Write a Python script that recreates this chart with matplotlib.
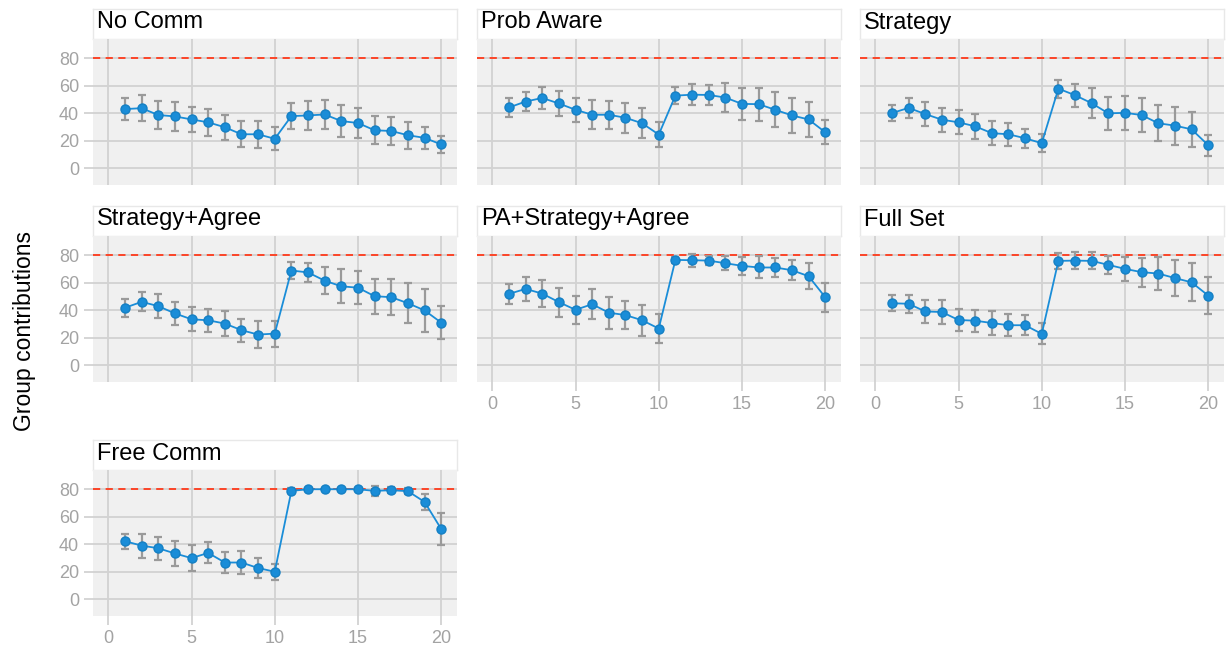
import numpy as np
import matplotlib
matplotlib.use("Agg")
import matplotlib.pyplot as plt

plt.rcParams['font.family'] = ['Liberation Sans', 'DejaVu Sans']

# data
#------------------------------
rounds = [1, 2, 3, 4, 5, 6, 7, 8, 9, 10, 11, 12, 13, 14, 15, 16, 17, 18, 19, 20]
target = 80

titles = ["No Comm", "Prob Aware", "Strategy", "Strategy+Agree",
          "PA+Strategy+Agree", "Full Set", "Free Comm"]

no_comm_mean = [43.0, 43.7, 38.7, 37.7, 35.5, 33.4, 29.8, 24.7, 24.7, 21.4,
                37.9, 38.4, 39.1, 34.3, 32.9, 27.6, 27.1, 24.0, 22.1, 17.3]
no_comm_err = [7.8, 9.6, 10.5, 10.4, 9.0, 9.8, 9.2, 9.6, 9.7, 8.4,
               9.4, 10.3, 10.3, 11.5, 10.6, 10.3, 10.0, 9.8, 7.8, 6.1]

prob_aware_mean = [44.2, 48.5, 51.1, 47.1, 42.5, 38.9, 38.9, 36.7, 32.7, 24.5,
                   52.8, 53.5, 53.3, 51.4, 46.8, 46.6, 42.5, 38.4, 35.5, 26.2]
prob_aware_err = [6.6, 6.8, 8.2, 8.8, 8.8, 10.4, 10.2, 10.9, 10.9, 8.9,
                  6.1, 7.6, 7.6, 10.3, 11.8, 12.0, 12.6, 12.7, 12.7, 8.8]

strategy_mean = [40.1, 43.9, 39.4, 35.3, 33.4, 30.5, 25.5, 24.7, 21.8, 18.2,
                 57.9, 53.1, 47.3, 39.9, 40.3, 38.7, 32.7, 31.0, 28.3, 16.8]
strategy_err = [5.8, 7.1, 8.5, 8.8, 8.8, 9.2, 8.9, 8.2, 6.8, 6.6,
                6.5, 8.4, 10.7, 12.2, 12.6, 12.7, 13.2, 13.8, 12.5, 7.6]

strat_agree_mean = [41.8, 46.1, 43.0, 37.7, 33.4, 32.7, 30.3, 25.5, 22.3, 23.0,
                    68.9, 67.5, 61.5, 57.4, 56.4, 50.2, 49.5, 45.1, 39.9, 31.0]
strat_agree_err = [6.4, 7.0, 8.6, 8.4, 8.8, 8.3, 9.1, 8.3, 9.7, 9.5,
                   6.5, 6.8, 9.7, 12.4, 12.1, 12.8, 13.2, 14.6, 15.4, 11.9]

pa_strat_agree_mean = [51.9, 55.5, 52.1, 45.9, 40.3, 44.4, 38.2, 36.5, 32.7, 26.7,
                       76.6, 76.4, 76.1, 74.2, 72.3, 71.1, 71.1, 69.1, 64.8, 49.5]
pa_strat_agree_err = [7.0, 8.5, 10.0, 10.6, 10.3, 10.7, 11.6, 10.3, 11.4, 10.8,
                      2.3, 4.6, 3.4, 5.0, 6.7, 8.0, 6.7, 7.2, 9.2, 10.6]

full_set_mean = [45.1, 44.7, 39.1, 38.7, 32.9, 32.4, 30.7, 29.1, 29.1, 22.8,
                 75.9, 76.1, 75.9, 73.0, 70.1, 67.7, 66.7, 63.4, 60.3, 50.7]
full_set_err = [6.0, 6.6, 8.2, 8.8, 8.1, 8.0, 8.6, 7.8, 7.3, 7.7,
                6.0, 6.2, 6.1, 6.4, 8.8, 10.6, 12.0, 12.8, 13.8, 13.5]

free_comm_mean = [42.2, 39.0, 37.1, 33.3, 29.9, 33.7, 26.7, 26.7, 22.7, 20.0,
                  78.8, 80.0, 80.0, 80.0, 80.0, 78.8, 79.3, 78.6, 70.8, 51.1]
free_comm_err = [5.4, 8.8, 8.4, 9.4, 9.5, 7.6, 7.5, 8.4, 7.3, 5.8,
                 1.8, 0.7, 0.5, 0.5, 0.5, 3.4, 2.0, 2.4, 5.9, 11.7]

means = [no_comm_mean, prob_aware_mean, strategy_mean, strat_agree_mean,
         pa_strat_agree_mean, full_set_mean, free_comm_mean]
errs = [no_comm_err, prob_aware_err, strategy_err, strat_agree_err,
        pa_strat_agree_err, full_set_err, free_comm_err]
#------------------------------

# layout in pixels
#------------------------------
W, H = 1229, 646
col_x = [93, 477, 860]
col_w = 364
strip_top = [9, 206, 440]
strip_h = 30
plot_h = 146
show_x = [False, False, False, False, True, True, True]

blue = '#1a8dd8'
grid_c = '#d2d2d2'
tick_c = '#a3a3a3'

fig = plt.figure(figsize=(W / 100, H / 100), dpi=100)

for i, title in enumerate(titles):
    r, c = divmod(i, 3)
    x0 = col_x[c]
    ys = strip_top[r]

    # strip
    sax = fig.add_axes([x0 / W, 1 - (ys + strip_h) / H, col_w / W, strip_h / H])
    sax.set_facecolor('white')
    sax.set_xticks([])
    sax.set_yticks([])
    for sp in sax.spines.values():
        sp.set_color('#e8e8e8')
        sp.set_linewidth(1)
    sax.text(4 / col_w, 0.55, title, transform=sax.transAxes, ha='left',
             va='center', fontsize=17, color='black')

    # panel
    py = ys + strip_h
    ax = fig.add_axes([x0 / W, 1 - (py + plot_h) / H, col_w / W, plot_h / H])
    ax.set_facecolor('#f0f0f0')
    for sp in ax.spines.values():
        sp.set_visible(False)
    ax.set_xlim(-0.92, 20.95)
    ax.set_ylim(-12.2, 94)
    ax.set_xticks([0, 5, 10, 15, 20])
    ax.set_yticks([0, 20, 40, 60, 80])
    ax.grid(True, color=grid_c, linewidth=1.3)
    ax.set_axisbelow(True)
    ax.tick_params(axis='both', colors=grid_c, length=6.5, width=1.3,
                   labelcolor=tick_c, labelsize=13, pad=3.5)
    if not show_x[i]:
        ax.tick_params(axis='x', length=0, labelbottom=False)
    if c > 0:
        ax.tick_params(axis='y', length=0, labelleft=False)

    ax.axhline(target, color='#ff3a1a', linestyle=(0, (4, 3)), linewidth=1.3,
               zorder=2)
    ax.errorbar(rounds, means[i], yerr=errs[i], fmt='none', ecolor='#9a9a9a',
                elinewidth=1.6, capsize=3.2, capthick=1.6, zorder=3)
    ax.plot(rounds, means[i], color=blue, linewidth=1.3, marker='o',
            markersize=6.5, markeredgecolor='#1580c4', zorder=4)

fig.text(25 / W, 1 - 331 / H, 'Group contributions', rotation=90,
         ha='center', va='center', fontsize=16.5, color='black')

fig.savefig('out.png', dpi=100)
